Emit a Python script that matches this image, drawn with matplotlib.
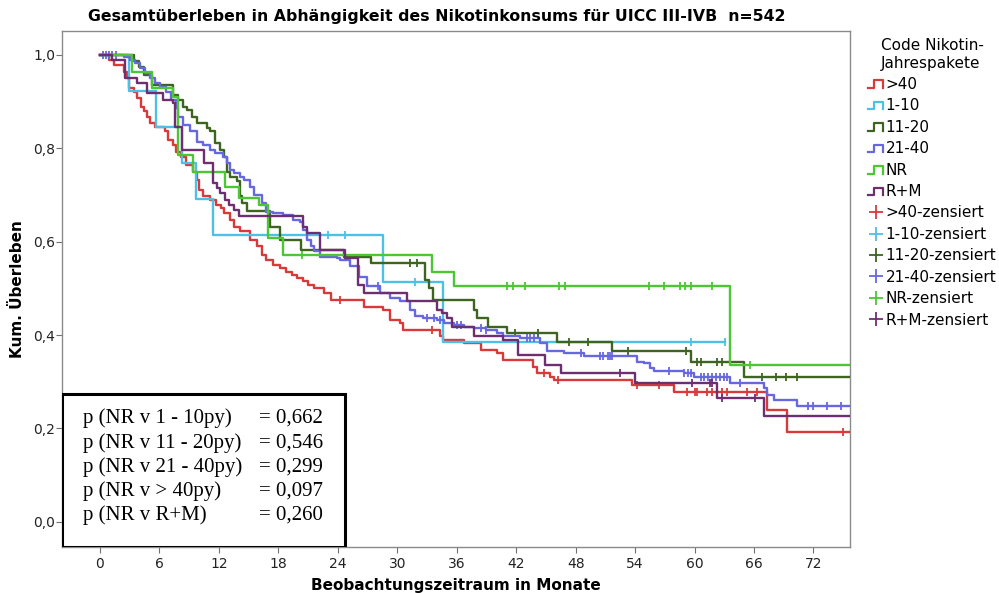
import matplotlib
matplotlib.use("Agg")
import matplotlib.pyplot as plt
import numpy as np
from matplotlib.legend_handler import HandlerBase
from matplotlib.lines import Line2D
from matplotlib.patches import Rectangle

# Kaplan-Meier steps: event times (months) and survival after each step
groups = [">40", "1-10", "11-20", "21-40", "NR", "R+M"]
colors = ["#d83a3c", "#4ec0e6", "#3d6520", "#6767e0", "#4cc632", "#6e2f70"]

t_gt40 = [0.9, 1.4, 2.4, 2.7, 2.9, 3.4, 3.7, 4.1, 4.4, 4.7, 5.0, 5.6, 6.6, 6.9, 7.4, 7.7,
          8.2, 8.7, 9.4, 9.8, 10.0, 10.4, 11.1, 11.7, 12.2, 12.5, 13.1, 13.5, 14.1, 15.1,
          15.8, 16.3, 16.8, 17.5, 18.2, 18.8, 19.4, 19.9, 20.5, 21.0, 21.6, 22.6, 23.3,
          26.6, 28.6, 29.3, 30.3, 30.6, 34.3, 34.6, 36.7, 38.4, 40.1, 40.7, 43.7, 44.1,
          45.4, 45.8, 53.7, 57.9, 67.3, 69.3]
s_gt40 = [.989, .979, .964, .95, .929, .921, .907, .889, .879, .868, .854, .846, .836, .818,
          .807, .793, .782, .764, .75, .732, .711, .697, .69, .679, .672, .661, .647, .632,
          .622, .604, .59, .572, .561, .55, .543, .536, .529, .522, .515, .507, .50, .49,
          .475, .461, .454, .433, .426, .411, .397, .39, .383, .368, .362, .347, .332, .319,
          .311, .304, .293, .279, .24, .193]
c_gt40 = [24.2, 33.5, 44.8, 46.2, 54.2, 56.4, 59.2, 60.0, 60.2, 61.3, 61.8, 62.8, 63.3,
          65.3, 66.3, 75.0]

t_1_10 = [2.9, 5.7, 8.3, 9.7, 11.4, 28.6, 34.6]
s_1_10 = [.923, .846, .769, .692, .615, .513, .385]
c_1_10 = [23.0, 24.7, 31.8, 59.6, 63.1]

t_11_20 = [3.4, 3.9, 4.4, 5.2, 7.4, 7.9, 8.4, 8.8, 9.3, 9.8, 10.8, 11.1, 11.6, 12.1, 12.5,
           12.8, 13.1, 13.8, 14.1, 14.3, 14.8, 17.2, 18.2, 20.3, 24.6, 27.3, 32.8, 33.2,
           33.6, 37.7, 38.0, 39.2, 41.1, 46.1, 51.7, 59.6, 65.0]
s_11_20 = [.987, .973, .957, .936, .914, .904, .889, .882, .868, .854, .843, .836, .811,
           .797, .782, .75, .739, .729, .697, .682, .665, .632, .604, .582, .568, .554,
           .518, .50, .475, .454, .436, .418, .404, .386, .365, .343, .311]
c_11_20 = [31.3, 32.0, 41.9, 44.2, 47.3, 49.2, 53.3, 59.1, 60.2, 60.6, 62.3, 62.8, 66.8,
           68.2, 69.2, 70.3]

t_21_40 = [2.4, 3.0, 3.5, 4.0, 4.5, 5.0, 5.6, 6.1, 6.7, 7.2, 7.7, 7.9, 8.4, 9.1, 9.8, 10.4,
           11.1, 11.6, 12.4, 12.8, 13.1, 13.5, 14.1, 14.5, 15.1, 15.5, 16.3, 16.8, 17.5,
           18.5, 19.5, 20.2, 20.5, 20.9, 21.3, 21.6, 22.2, 23.9, 24.2, 25.2, 26.1, 26.9,
           28.3, 29.3, 30.3, 31.3, 31.8, 32.6, 34.0, 34.7, 35.7, 36.7, 37.7, 39.0, 40.1,
           40.7, 42.4, 44.4, 45.1, 46.8, 48.8, 54.2, 54.9, 55.5, 55.9, 58.9, 59.9, 63.6,
           67.0, 67.3, 68.0, 70.3]
s_21_40 = [.996, .989, .982, .971, .961, .95, .939, .932, .921, .904, .886, .868, .85, .836,
           .814, .807, .797, .79, .782, .768, .754, .747, .739, .732, .718, .70, .682, .664,
           .661, .657, .647, .643, .625, .604, .59, .58, .568, .565, .561, .547, .525, .504,
           .49, .479, .472, .454, .44, .436, .433, .425, .422, .418, .415, .411, .404, .397,
           .393, .383, .365, .361, .354, .343, .34, .329, .322, .318, .311, .297, .286,
           .272, .261, .247]
c_21_40 = [0.3, 0.6, 0.9, 1.2, 1.6, 28.1, 33.0, 33.7, 34.3, 36.0, 36.4, 38.4, 39.0, 43.1,
           43.4, 43.8, 48.5, 50.5, 50.8, 51.3, 51.5, 51.7, 57.4, 58.9, 59.3, 59.6, 60.6,
           61.0, 61.4, 61.8, 62.2, 62.6, 63.0, 63.3, 64.6, 71.4, 72.0, 73.4, 74.8]

t_nr = [3.2, 5.2, 7.4, 7.9, 9.4, 12.6, 14.0, 16.0, 17.0, 18.5, 33.5, 35.7, 63.6]
s_nr = [.964, .929, .91, .786, .75, .718, .693, .679, .607, .571, .536, .504, .336]
c_nr = [20.4, 41.1, 41.7, 42.9, 46.3, 46.9, 55.4, 56.9, 58.5, 59.0, 59.6, 61.8, 65.6]

t_rm = [1.2, 2.5, 3.7, 4.7, 6.4, 7.4, 7.6, 8.25, 10.5, 11.4, 11.8, 12.1, 12.6, 13.0, 13.5,
        14.0, 20.5, 20.9, 22.2, 24.7, 26.0, 26.6, 31.0, 34.0, 34.5, 35.0, 35.5, 37.7, 40.7,
        42.2, 44.9, 46.5, 54.0, 62.3, 67.0]
s_rm = [.989, .95, .939, .918, .904, .896, .846, .797, .768, .725, .715, .704, .69, .679,
        .668, .654, .632, .618, .582, .565, .507, .49, .472, .454, .447, .436, .418, .397,
        .39, .358, .336, .318, .297, .265, .227]
c_rm = [52.5, 59.7, 61.6, 61.8, 62.8, 66.1]

# last follow-up per group (curves run past the axis edge except 1-10)
t_end = [80, 63.1, 80, 80, 80, 80]

p_labels = ["p (NR v 1 - 10py)", "p (NR v 11 - 20py)", "p (NR v 21 - 40py)",
            "p (NR v > 40py)", "p (NR v R+M)"]
p_values = ["= 0,662", "= 0,546", "= 0,299", "= 0,097", "= 0,260"]

series = [(t_gt40, s_gt40, c_gt40), (t_1_10, s_1_10, c_1_10), (t_11_20, s_11_20, c_11_20),
          (t_21_40, s_21_40, c_21_40), (t_nr, s_nr, c_nr), (t_rm, s_rm, c_rm)]


class StepHandler(HandlerBase):
    def create_artists(self, legend, orig_handle, xdescent, ydescent, width, height,
                       fontsize, trans):
        x0, y0 = -xdescent, -ydescent
        xs = [x0, x0 + 0.35 * width, x0 + 0.35 * width, x0 + width, x0 + width]
        ys = [y0 + 0.1 * height, y0 + 0.1 * height, y0 + 0.8 * height,
              y0 + 0.8 * height, y0 + 0.1 * height]
        return [Line2D(xs, ys, color=orig_handle.get_color(), lw=1.6, transform=trans)]


def main() -> None:
    plt.rcParams["font.family"] = ["DejaVu Sans"]
    fig = plt.figure(figsize=(9.99, 5.93), dpi=100)
    ax = fig.add_axes([0.062, 0.0776, 0.789, 0.870])

    for (t, s, c), col, end in zip(series, colors, t_end):
        xs = np.r_[0.0, t, end]
        ys = np.r_[1.0, s, s[-1]]
        ax.step(xs, ys, where="post", color=col, lw=1.7, zorder=3)
        idx = np.searchsorted(t, c, side="right")
        cy = np.r_[1.0, s][idx]
        ax.plot(c, cy, linestyle="none", marker="|", markersize=6, mew=1.3,
                color=col, zorder=3)

    ax.set_xlim(-3.84, 75.7)
    ax.set_ylim(-0.054, 1.051)
    ax.set_xticks(np.arange(0, 73, 6))
    ax.set_yticks(np.arange(0, 1.01, 0.2))
    ax.set_yticklabels([f"{v:.1f}".replace(".", ",") for v in np.arange(0, 1.01, 0.2)])
    ax.tick_params(direction="out", length=4, color="#707070", labelsize=10,
                   labelcolor="#222222")
    ax.tick_params(axis="y", pad=1)
    for sp in ax.spines.values():
        sp.set_color("#8a8a8a")
        sp.set_linewidth(1.0)

    ax.set_xlabel("Beobachtungszeitraum in Monate", fontsize=11, fontweight="bold",
                  labelpad=5)
    ax.set_ylabel("Kum. Überleben", fontsize=11, fontweight="bold", labelpad=6)
    fig.text(88 / 999, 1 - 17 / 593, "Gesamtüberleben in Abhängigkeit des Nikotinkonsums "
             "für UICC III-IVB  n=542", fontsize=11.3, fontweight="bold",
             ha="left", va="center")

    # p-value box
    ax.add_patch(Rectangle((0, 0), 0.359, 0.2965, transform=ax.transAxes,
                           facecolor="white", edgecolor="black", lw=2.2, zorder=5))
    for i, (lab, val) in enumerate(zip(p_labels, p_values)):
        y = 0.249 - i * 0.0468
        ax.text(0.027, y, lab, transform=ax.transAxes, fontsize=15,
                family="Liberation Serif", ha="left", va="center", zorder=6)
        ax.text(0.331, y, val, transform=ax.transAxes, fontsize=15,
                family="Liberation Serif", ha="right", va="center", zorder=6)

    # legend
    step_handles = [Line2D([], [], color=c) for c in colors]
    cens_handles = [Line2D([], [], color=c, marker="+", linestyle="none",
                           markersize=10, mew=1.3) for c in colors]
    handles = step_handles + cens_handles
    labels = groups + [g + "-zensiert" for g in groups]
    handler_map = {h: StepHandler() for h in step_handles}
    leg = fig.legend(handles, labels, handler_map=handler_map, loc="upper left",
                     bbox_to_anchor=(859 / 999, 1 - 29 / 593), frameon=False,
                     title="Code Nikotin-\nJahrespakete", title_fontsize=11, fontsize=11,
                     handlelength=1.0, handletextpad=0.15, labelspacing=0.42,
                     numpoints=1, borderpad=0.1)
    leg._legend_box.align = "center"

    fig.savefig("out.png", dpi=100)


if __name__ == "__main__":
    main()
